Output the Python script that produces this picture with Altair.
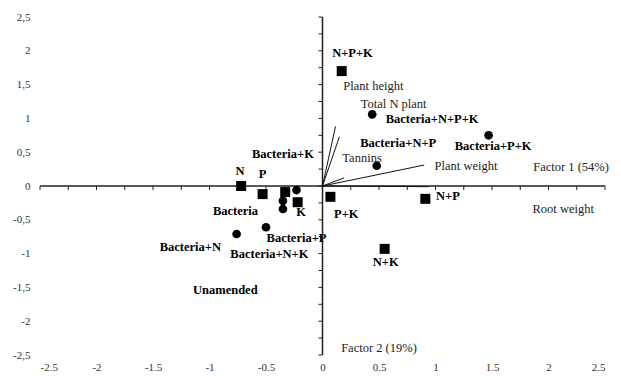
import altair as alt
import pandas as pd

# Treatments without bacteria (squares) and with bacteria (circles)
sq_x = [0.17, -0.72, -0.53, -0.33, -0.22, 0.07, 0.91, 0.55]
sq_y = [1.70, 0.00, -0.12, -0.09, -0.24, -0.16, -0.19, -0.93]
ci_x = [0.44, 1.47, 0.48, -0.23, -0.35, -0.35, -0.50, -0.76]
ci_y = [1.06, 0.75, 0.30, -0.06, -0.22, -0.34, -0.61, -0.71]

# Variable vectors
vec_names = ["Plant height", "Total N plant", "Plant weight", "Tannins", "Root weight"]
vec_x = [0.115, 0.15, 0.90, 0.19, 0.94]
vec_y = [0.88, 0.73, 0.31, 0.12, -0.01]

# Bold treatment labels
bold_text = ["N+P+K", "Bacteria+N+P+K", "Bacteria+N+P", "Bacteria+P+K", "Bacteria+K", "N", "P",
             "Bacteria", "K", "Bacteria+P", "Bacteria+N", "Bacteria+N+K", "Unamended",
             "P+K", "N+P", "N+K"]
bold_x = [0.265, 0.97, 0.67, 1.51, -0.35, -0.73, -0.53,
          -0.77, -0.19, -0.23, -1.17, -0.47, -0.86,
          0.21, 1.11, 0.56]
bold_y = [1.97, 0.99, 0.64, 0.59, 0.47, 0.22, 0.18,
          -0.37, -0.38, -0.77, -0.90, -1.01, -1.54,
          -0.41, -0.15, -1.12]

# Plain labels (variables and factor names)
plain_text = ["Plant height", "Total N plant", "Tannins", "Plant weight", "Root weight",
              "Factor 1 (54%)", "Factor 2 (19%)"]
plain_x = [0.45, 0.63, 0.35, 1.27, 2.13, 2.20, 0.50]
plain_y = [1.48, 1.21, 0.41, 0.29, -0.34, 0.28, -2.40]

tick_values = [-2.5, -2, -1.5, -1, -0.5, 0, 0.5, 1, 1.5, 2, 2.5]
minor_ticks = [i * 0.25 for i in range(-10, 11)]

FONT = "Liberation Serif"
dom = [-2.5, 2.5]

points = pd.DataFrame({
    "x": sq_x + ci_x,
    "y": sq_y + ci_y,
    "shape": ["square"] * len(sq_x) + ["circle"] * len(ci_x),
})
vectors = pd.DataFrame({"name": vec_names, "x": vec_x, "y": vec_y, "x0": 0.0, "y0": 0.0})
bold_df = pd.DataFrame({"t": bold_text, "x": bold_x, "y": bold_y})
plain_df = pd.DataFrame({"t": plain_text, "x": plain_x, "y": plain_y})
ticks_df = pd.DataFrame({"v": minor_ticks, "z": 0.0})
axes_df = pd.DataFrame({"a": [-2.5], "b": [2.5], "z": [0.0]})

label_expr = "replace(toString(datum.value), '.', ',')"
xs = alt.Scale(domain=dom, nice=False, zero=False)
ys = alt.Scale(domain=dom, nice=False, zero=False)
xaxis = alt.Axis(values=tick_values, labelExpr=label_expr, title=None, labelPadding=6,
                 labelOverlap=False, domain=False, ticks=False, grid=False,
                 labelFont=FONT, labelFontSize=11, labelColor="#333")
yaxis = alt.Axis(values=tick_values, labelExpr=label_expr, title=None, labelPadding=10,
                 labelOverlap=False, domain=False, ticks=False, grid=False,
                 labelFont=FONT, labelFontSize=11, labelColor="#333")


def X(f):
    return alt.X(f, scale=xs, axis=xaxis)


def Y(f):
    return alt.Y(f, scale=ys, axis=yaxis)


base_axes = alt.Chart(axes_df).mark_rule(color="#222", strokeWidth=1.5).encode(
    x=X("a:Q"), x2="b:Q", y=Y("z:Q")
)
v_axis = alt.Chart(axes_df).mark_rule(color="#222", strokeWidth=1.5).encode(
    x=X("z:Q"), y=Y("a:Q"), y2="b:Q"
)
x_ticks = alt.Chart(ticks_df).mark_rule(color="#222", strokeWidth=1, y2Offset=4).encode(
    x=X("v:Q"), y=Y("z:Q"), y2="z:Q"
)
y_ticks = alt.Chart(ticks_df).mark_rule(color="#222", strokeWidth=1, x2Offset=-4).encode(
    y=Y("v:Q"), x=X("z:Q"), x2="z:Q"
)
vec = alt.Chart(vectors).mark_rule(color="#111", strokeWidth=1).encode(
    x=X("x0:Q"), y=Y("y0:Q"), x2="x:Q", y2="y:Q"
)
pts = alt.Chart(points).mark_point(filled=True, color="black", opacity=1).encode(
    x=X("x:Q"), y=Y("y:Q"),
    shape=alt.Shape("shape:N", scale=alt.Scale(domain=["square", "circle"], range=["square", "circle"]), legend=None),
    size=alt.Size("shape:N", scale=alt.Scale(domain=["square", "circle"], range=[100, 75]), legend=None),
)
btxt = alt.Chart(bold_df).mark_text(font=FONT, fontSize=12.5, fontWeight="bold", color="black",
                                    align="center", baseline="middle").encode(
    x=X("x:Q"), y=Y("y:Q"), text="t:N"
)
ptxt = alt.Chart(plain_df).mark_text(font=FONT, fontSize=12.5, color="#222",
                                     align="center", baseline="middle").encode(
    x=X("x:Q"), y=Y("y:Q"), text="t:N"
)

chart = alt.layer(base_axes, v_axis, x_ticks, y_ticks, vec, pts, btxt, ptxt).properties(
    width=565, height=338,
    autosize=alt.AutoSizeParams(type="none"),
    padding={"left": 32, "top": 9, "right": 8, "bottom": 16},
    background="white",
).configure_view(stroke=None).configure_axis(
    labelFont=FONT, labelFontSize=11, labelColor="#333", labelOverlap=False,
    domain=False, ticks=False, grid=False,
)

chart.save("out.html", embed_options={"renderer": "svg", "actions": False})
